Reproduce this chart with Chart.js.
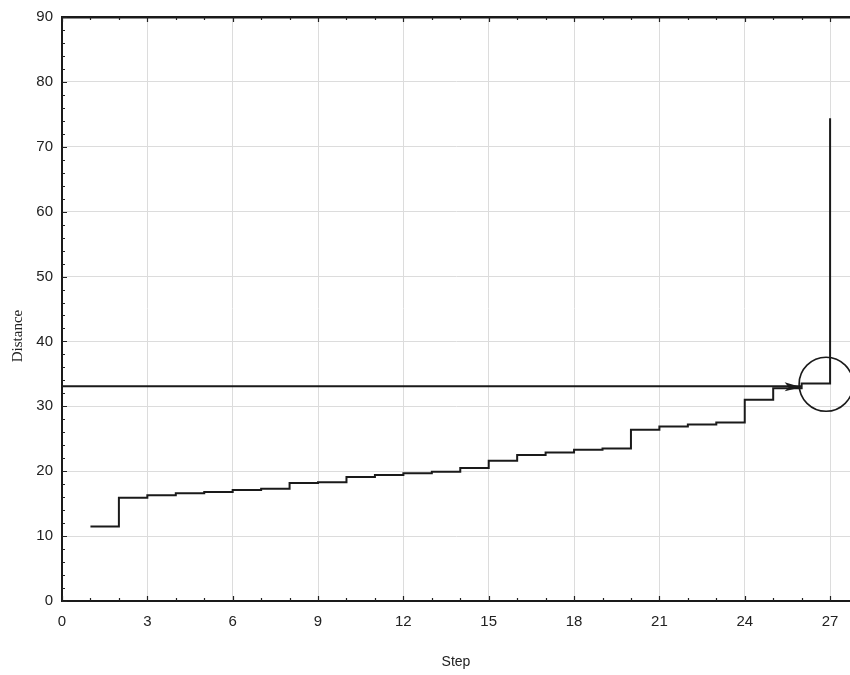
<!DOCTYPE html>
<html>
<head>
<meta charset="utf-8">
<script src="https://cdn.jsdelivr.net/npm/chart.js@4.4.1/dist/chart.umd.min.js"></script>
<style>
  html,body{margin:0;padding:0;background:#fff;}
  #wrap{width:850px;height:675px;position:relative;}
</style>
</head>
<body>
<div id="wrap"><canvas id="c" width="850" height="675"></canvas></div>
<script>
// step number and linkage distance
const steps = [1,2,3,4,5,6,7,8,9,10,11,12,13,14,15,16,17,18,19,20,21,22,23,24,25,26,27];
const distance = [11.5,15.9,16.3,16.6,16.8,17.1,17.3,18.2,18.3,19.1,19.4,19.7,19.9,20.5,21.6,22.5,22.9,23.3,23.5,26.4,26.9,27.2,27.5,31.0,32.8,33.5,74.4];
// cut-off arrow and marked circle
const arrowX = [0, 26];
const arrowY = [33.1, 33.1];
const circleX = [26.86];
const circleY = [33.4];
const yTitle = 'Distance';

const xMax = 27.7;
const ink = '#1a1a1a';
const tickFont = {family:'"Liberation Sans", Arial, sans-serif', size:15};

function noPad(scale){
  scale.paddingLeft = 0; scale.paddingRight = 0;
  scale.paddingTop = 0; scale.paddingBottom = 0;
}

const tickMarks = {
  id:'tickMarks',
  afterDraw(chart){
    const {ctx, chartArea:a, scales:{x,y}} = chart;
    ctx.save();
    ctx.strokeStyle = '#222';
    ctx.lineWidth = 1.2;
    ctx.beginPath();
    x.ticks.forEach(t=>{
      const px = Math.round(x.getPixelForValue(t.value)) + 0.5;
      const len = t.value % 3 === 0 ? 5 : 3;
      ctx.moveTo(px, a.bottom); ctx.lineTo(px, a.bottom - len);
      ctx.moveTo(px, a.top); ctx.lineTo(px, a.top + len);
    });
    y.ticks.forEach(t=>{
      const py = Math.round(y.getPixelForValue(t.value)) + 0.5;
      const len = t.value % 10 === 0 ? 5 : 3;
      ctx.moveTo(a.left, py); ctx.lineTo(a.left + len, py);
    });
    ctx.stroke();
    // y axis title, sits a little below the middle in the original
    ctx.translate(18, (a.top + a.bottom) / 2 + 27);
    ctx.rotate(-Math.PI / 2);
    ctx.fillStyle = '#222';
    ctx.font = '15px "Liberation Serif", "Times New Roman", serif';
    ctx.textAlign = 'center';
    ctx.textBaseline = 'middle';
    ctx.fillText(yTitle, 0, 0);
    ctx.restore();
  }
};

const arrowHead = {
  id:'arrowHead',
  afterDatasetsDraw(chart){
    const meta = chart.getDatasetMeta(1);
    const pts = meta.data;
    const tip = pts[pts.length-1];
    const ctx = chart.ctx;
    ctx.save();
    ctx.fillStyle = ink;
    ctx.beginPath();
    ctx.moveTo(tip.x, tip.y + 1);
    ctx.lineTo(tip.x - 17, tip.y - 4);
    ctx.lineTo(tip.x - 13, tip.y + 1);
    ctx.lineTo(tip.x - 17, tip.y + 5);
    ctx.closePath();
    ctx.fill();
    ctx.restore();
  }
};

new Chart(document.getElementById('c'), {
  type:'line',
  data:{
    datasets:[
      {
        label:'Distance',
        data: steps.map((s,i)=>({x:s, y:distance[i]})),
        stepped:true,
        borderColor:ink,
        borderWidth:2,
        pointRadius:0,
        fill:false
      },
      {
        label:'cut',
        data: arrowX.map((v,i)=>({x:v, y:arrowY[i]})),
        borderColor:ink,
        borderWidth:2,
        pointRadius:0,
        fill:false
      },
      {
        label:'mark',
        data: circleX.map((v,i)=>({x:v, y:circleY[i]})),
        showLine:false,
        pointRadius:27,
        pointBorderWidth:1.6,
        pointBorderColor:ink,
        pointBackgroundColor:'rgba(0,0,0,0)',
        clip:false
      }
    ]
  },
  options:{
    responsive:false,
    animation:false,
    events:[],
    layout:{padding:0, autoPadding:false},
    plugins:{legend:{display:false}, tooltip:{enabled:false}},
    scales:{
      x:{
        type:'linear',
        position:'bottom',
        min:0, max:xMax,
        afterFit(scale){ scale.height = 74; noPad(scale); },
        ticks:{
          stepSize:1, autoSkip:false, includeBounds:false, maxRotation:0,
          padding:12, color:'#222', font:tickFont,
          callback:v=> v % 3 === 0 ? String(v) : ''
        },
        grid:{
          drawTicks:false,
          color:c=> (c.tick && c.tick.value % 3 === 0 && c.tick.value !== 0) ? '#dcdcdc' : 'rgba(0,0,0,0)',
          lineWidth:1
        },
        border:{display:true, color:ink, width:2},
        title:{display:true, text:'Step', color:'#222',
          font:{family:'"Liberation Sans", Arial, sans-serif', size:14}, padding:{top:0,bottom:4}}
      },
      xTop:{
        type:'linear',
        position:'top',
        min:0, max:xMax,
        afterFit(scale){ scale.height = 17; noPad(scale); },
        ticks:{display:false},
        grid:{display:false, drawTicks:false},
        border:{display:true, color:ink, width:2.5}
      },
      y:{
        type:'linear',
        position:'left',
        min:0, max:90,
        afterFit(scale){ scale.width = 62; noPad(scale); },
        ticks:{
          stepSize:2, autoSkip:false, padding:9, color:'#222', font:tickFont,
          callback:v=> v % 10 === 0 ? String(v) : ''
        },
        grid:{
          drawTicks:false,
          color:c=> (c.tick && c.tick.value % 10 === 0 && c.tick.value !== 0 && c.tick.value !== 90) ? '#dcdcdc' : 'rgba(0,0,0,0)',
          lineWidth:1
        },
        border:{display:true, color:ink, width:2},
        title:{display:false}
      }
    }
  },
  plugins:[tickMarks, arrowHead]
});
</script>
</body>
</html>
